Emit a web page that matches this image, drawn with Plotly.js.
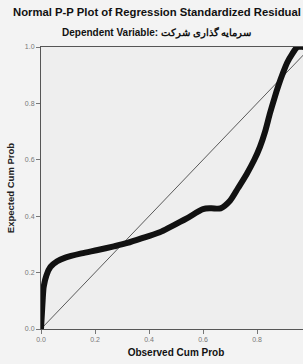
<!DOCTYPE html>
<html>
<head>
<meta charset="utf-8">
<script src="https://cdn.plot.ly/plotly-3.0.1.min.js"></script>
<style>
html,body{margin:0;padding:0;overflow:hidden;background:#f3f3f3;width:303px;height:364px;}
#chart{width:320px;height:364px;}
</style>
</head>
<body>
<div id="chart"></div>
<script>
// Observed cumulative probability (x) and expected cumulative probability (y)
const observedCumProb = [0.000,0.003,0.006,0.010,0.020,0.035,0.060,0.090,0.150,0.210,0.270,0.320,0.390,0.440,0.480,0.540,0.600,0.630,0.665,0.700,0.730,0.762,0.790,0.811,0.830,0.848,0.865,0.880,0.895,0.912,0.930,0.950,0.975,1.000];
const expectedCumProb = [0.000,0.050,0.100,0.150,0.190,0.220,0.240,0.253,0.268,0.280,0.293,0.305,0.327,0.343,0.362,0.392,0.425,0.428,0.428,0.455,0.500,0.550,0.600,0.646,0.700,0.765,0.820,0.865,0.905,0.945,0.975,1.000,1.000,1.000];
const refLineX = [0, 1];
const refLineY = [0, 1];
const xTickVals = [0, 0.2, 0.4, 0.6, 0.8];
const xTickText = ['0.0', '0.2', '0.4', '0.6', '0.8'];
const yTickVals = [0, 0.2, 0.4, 0.6, 0.8, 1.0];
const yTickText = ['0.0', '0.2', '0.4', '0.6', '0.8', '1.0'];
const titleText = 'Normal P-P Plot of Regression Standardized Residual';
const subtitleText = 'Dependent Variable: سرمایه گذاری شرکت';
const xTitle = 'Observed Cum Prob';
const yTitle = 'Expected Cum Prob';

const traces = [
  {x: refLineX, y: refLineY, mode: 'lines', line: {color: '#333', width: 0.8}, hoverinfo: 'skip'},
  {x: observedCumProb, y: expectedCumProb, mode: 'lines', line: {color: '#111', width: 6, shape: 'spline', smoothing: 0.8}}
];

const axisCommon = {
  range: [0, 1],
  ticks: 'outside', ticklen: 4, tickcolor: '#777', tickwidth: 1,
  tickfont: {family: 'Liberation Sans, Arial, sans-serif', size: 7, color: '#777'},
  showgrid: false, zeroline: false, showline: true, linecolor: '#555', linewidth: 1,
  mirror: true, fixedrange: true
};

const layout = {
  width: 320, height: 364,
  margin: {l: 41, r: 9, t: 47, b: 35},
  paper_bgcolor: '#f3f3f3', plot_bgcolor: '#eeeeee',
  showlegend: false,
  font: {family: 'Liberation Sans, Arial, sans-serif', color: '#111'},
  xaxis: Object.assign({}, axisCommon, {
    tickvals: xTickVals, ticktext: xTickText,
    title: {text: '<b>' + xTitle + '</b>', font: {size: 10, color: '#111'}, standoff: 6}
  }),
  yaxis: Object.assign({}, axisCommon, {
    tickvals: yTickVals, ticktext: yTickText,
    title: {text: '<b>' + yTitle + '</b>', font: {size: 9.5, color: '#222'}, standoff: 8}
  }),
  annotations: [
    {text: '<b>' + titleText + '</b>', xref: 'paper', yref: 'paper', x: 0, y: 1, xanchor: 'left', yanchor: 'bottom',
     xshift: -30, yshift: 27, showarrow: false, font: {size: 11.3, color: '#111'}},
    {text: '<b>' + subtitleText + '</b>', xref: 'paper', yref: 'paper', x: 0.5, y: 1, xanchor: 'center', yanchor: 'bottom',
     xshift: -20, yshift: 6, showarrow: false, font: {size: 10, color: '#111'}}
  ]
};

Plotly.newPlot('chart', traces, layout, {staticPlot: true, displayModeBar: false});
</script>
</body>
</html>
